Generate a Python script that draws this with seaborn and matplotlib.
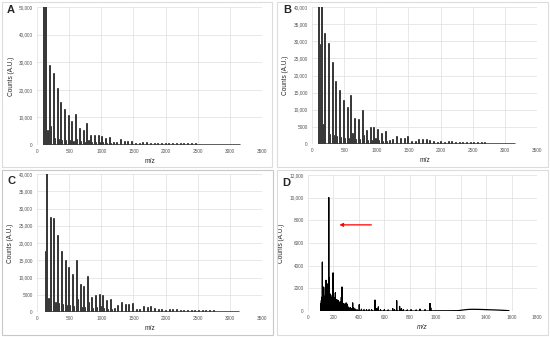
import numpy as np
import pandas as pd
import matplotlib
matplotlib.use("Agg")
import matplotlib.pyplot as plt
from matplotlib.patches import Rectangle
from matplotlib.ticker import FuncFormatter
import seaborn as sns

# ---------------- data ----------------
A_mz = [104, 128, 145, 176, 202, 213, 262, 320, 378, 436, 494, 552, 610, 668, 726, 784,
        842, 900, 958, 1016, 1074, 1132, 1190, 1248, 1306, 1364, 1422, 1480, 1538, 1596,
        1654, 1712, 1770, 1828, 1886, 1944, 2002, 2060, 2118, 2176, 2234, 2292, 2350, 2408,
        2466, 2524, 2582, 2640, 2698, 2756, 2814, 2872, 2930, 2988, 3046, 3104, 3162]
A_counts = [52000, 27000, 52000, 5100, 28600, 6600, 25800, 20200, 15100, 12700, 10500, 8400,
            10900, 5700, 5200, 7600, 3300, 3400, 3300, 2800, 2000, 2400, 900, 900, 1700, 1000,
            1000, 1100, 500, 500, 700, 600, 500, 400, 350, 300, 300, 250, 250, 300, 250, 250,
            200, 200, 200, 150, 150, 150, 150, 120, 120, 100, 100, 100, 100, 80, 80]
A_minor_mz = [280, 338, 396, 454, 512, 570, 628, 686, 744, 802, 860, 918, 976, 1034, 1092, 1150]
A_minor_counts = [2000, 1800, 1500, 1500, 1300, 1200, 1800, 1000, 900, 1300, 700, 700, 600, 600, 500, 500]

B_mz = [114, 135, 150, 182, 190, 207, 264, 322, 378, 440, 498, 555, 612, 674, 731, 794,
        856, 913, 970, 1027, 1089, 1146, 1208, 1265, 1322, 1384, 1441, 1498, 1555, 1612,
        1670, 1727, 1784, 1841, 1898, 1955, 2012, 2069, 2126, 2183, 2240, 2297, 2354, 2411,
        2468, 2525, 2582, 2639, 2696, 2753, 2810, 2867, 2924, 2981, 3038, 3095, 3152]
B_counts = [42000, 29000, 42000, 5500, 3800, 32100, 29200, 23700, 18100, 15600, 12450, 10600,
            14000, 7400, 7000, 9700, 3900, 4700, 4600, 4100, 3000, 3400, 900, 1300, 2100, 1600,
            1600, 1900, 700, 700, 1300, 1300, 1200, 900, 500, 400, 500, 300, 500, 500, 400, 300,
            250, 200, 200, 200, 150, 150, 150, 120, 120, 100, 100, 100, 100, 80, 80]
B_minor_mz = [282, 340, 396, 458, 516, 573, 630, 692, 749, 812, 874, 931, 988, 1045, 1107, 1164]
B_minor_counts = [2500, 2200, 2000, 1800, 1600, 1500, 3000, 1300, 1100, 2400, 900, 900, 1500, 800, 700, 600]

C_mz = [135, 156, 192, 213, 270, 327, 384, 446, 503, 560, 617, 679, 736, 798, 855, 912,
        974, 1031, 1088, 1150, 1207, 1264, 1321, 1378, 1435, 1492, 1549, 1606, 1663, 1720,
        1777, 1834, 1891, 1948, 2005, 2062, 2119, 2176, 2233, 2290, 2347, 2404, 2461, 2518,
        2575, 2632, 2689, 2746, 2803, 2860, 2917, 2974, 3031, 3088, 3145]
C_counts = [17400, 40000, 3800, 27300, 27000, 21900, 17400, 14900, 12700, 10800, 14700, 7900,
            7300, 10200, 4200, 4700, 5000, 4500, 3100, 3600, 1000, 1600, 2500, 1900, 2000, 2400,
            600, 600, 1500, 1300, 1400, 1000, 500, 500, 400, 500, 600, 500, 400, 300, 250, 200,
            200, 200, 150, 150, 200, 150, 120, 100, 100, 100, 100, 80, 80]
C_minor_mz = [288, 345, 402, 464, 521, 578, 635, 697, 754, 816, 873, 930, 992, 1049, 1106, 1168]
C_minor_counts = [2500, 2200, 2000, 1800, 1600, 1500, 3500, 1300, 1100, 2600, 900, 1200, 1500, 1000, 700, 600]

D_mz = [100, 105, 108, 113, 118, 123, 128, 134, 138, 141, 145, 149, 153, 158, 163, 168, 172,
        176, 181, 186, 191, 197, 203, 210, 215, 220, 226, 232, 238, 243, 247, 252, 257, 262,
        267, 272, 278, 283, 288, 294, 300, 306, 312, 318, 325, 332, 340, 351, 360, 372, 385,
        403, 420, 440, 460, 480, 500, 527, 540, 553, 570, 600, 630, 666, 680, 697, 720, 734,
        749, 780, 810, 850, 880, 920, 959, 965]
D_counts = [600, 910, 1200, 4300, 1500, 2100, 1100, 1300, 2000, 2700, 1600, 2000, 1400, 2400,
            10000, 2900, 1500, 900, 1000, 1200, 1400, 3350, 1200, 1000, 1600, 800, 1000, 700,
            900, 800, 600, 700, 800, 1200, 2100, 700, 600, 500, 600, 500, 700, 600, 400, 300,
            200, 300, 200, 700, 250, 150, 100, 550, 150, 100, 100, 100, 100, 950, 200, 350, 100,
            100, 80, 200, 100, 900, 400, 200, 100, 80, 100, 80, 150, 100, 650, 250]
D_bg_mz = [990, 1100, 1180, 1220, 1260, 1300, 1350, 1400, 1450, 1500, 1550, 1580]
D_bg_counts = [20, 20, 30, 90, 140, 150, 140, 120, 100, 80, 50, 30]

panel_labels = ["A", "B", "C", "D"]
xticks_ABC = [0, 500, 1000, 1500, 2000, 2500, 3000, 3500]
xticks_D = [0, 200, 400, 600, 800, 1000, 1200, 1400, 1600, 1800]
yticks_A = [0, 10000, 20000, 30000, 40000, 50000]
yticks_BC = [0, 5000, 10000, 15000, 20000, 25000, 30000, 35000, 40000]
yticks_D = [0, 2000, 4000, 6000, 8000, 10000, 12000]
arrow_from = (520, 7600)
arrow_to = (225, 7600)


def sticks(mz, counts, extra_mz=None, extra_counts=None):
    df = pd.DataFrame({"mz": list(mz), "counts": list(counts)}).sort_values("mz")
    x = np.repeat(df["mz"].to_numpy(), 3)
    y = np.column_stack([np.zeros(len(df)), df["counts"].to_numpy(), np.zeros(len(df))]).ravel()
    out = pd.DataFrame({"mz": x, "counts": y})
    if extra_mz is not None:
        out = pd.concat([out, pd.DataFrame({"mz": extra_mz, "counts": extra_counts})],
                        ignore_index=True)
    return out


sns.set_style("whitegrid")
plt.rcParams["font.family"] = ["Liberation Sans", "DejaVu Sans"]

fig = plt.figure(figsize=(5.5, 3.37), dpi=100)

W, H = 550.0, 337.0


def ax_at(l, r, t, b):
    return fig.add_axes([l / W, 1 - b / H, (r - l) / W, (b - t) / H])


axA = ax_at(37, 262, 7, 145)
axB = ax_at(312, 537, 7, 144)
axC = ax_at(37, 262, 174, 312)
axD = ax_at(308, 537, 175, 311)

# panel frames
for (l, t, r, b, ec) in [(2, 2, 272, 167, "#dcdcdc"), (277, 2, 548, 167, "#dcdcdc"),
                         (2, 170, 273, 335, "#c8c8c8"), (277, 170, 548, 335, "#dcdcdc")]:
    fig.add_artist(Rectangle((l / W, 1 - b / H), (r - l) / W, (b - t) / H,
                             transform=fig.transFigure, fill=False, ec=ec, lw=0.8))

def fmt(v, pos):
    return f"{v:,.0f}" if v >= 10000 else f"{v:.0f}"

spec = [
    (axA, sticks(A_mz + A_minor_mz, A_counts + A_minor_counts), xticks_ABC, yticks_A, "#3a3a3a", 1.15),
    (axB, sticks(B_mz + B_minor_mz, B_counts + B_minor_counts), xticks_ABC, yticks_BC, "#3a3a3a", 1.15),
    (axC, sticks(C_mz + C_minor_mz, C_counts + C_minor_counts), xticks_ABC, yticks_BC, "#3a3a3a", 1.15),
    (axD, sticks(D_mz, D_counts, D_bg_mz, D_bg_counts), xticks_D, yticks_D, "#000000", 0.9),
]

for i, (ax, df, xt, yt, col, lw) in enumerate(spec):
    sns.lineplot(data=df, x="mz", y="counts", estimator=None, sort=False,
                 color=col, lw=lw, ax=ax)
    ax.set_xlim(xt[0], xt[-1])
    ax.set_ylim(yt[0], yt[-1])
    ax.set_xticks(xt)
    ax.set_yticks(yt)
    ax.yaxis.set_major_formatter(FuncFormatter(fmt))
    ax.tick_params(axis="both", length=0, labelsize=3.4, colors="#555555", pad=3)
    ax.grid(True, color="#dedede", lw=0.5)
    for s in ax.spines.values():
        s.set_visible(False)
    ax.set_axisbelow(True)
    ax.set_ylabel("Counts (A.U.)", fontsize=4.7, labelpad=3)
    ax.set_xlabel("m/z", fontsize=4.8, labelpad=3,
                  fontstyle="italic" if i == 3 else "normal")

axD.annotate("", xy=arrow_to, xytext=arrow_from,
             arrowprops=dict(arrowstyle="-|>", color="red", lw=0.9, mutation_scale=5))

for (x, y, lab) in [(7, 10, "A"), (283, 10, "B"), (7, 181, "C"), (282, 183, "D")]:
    fig.text(x / W, 1 - y / H, lab, fontsize=8, fontweight="bold", va="center", ha="left")

fig.savefig("out.png", dpi=100)
